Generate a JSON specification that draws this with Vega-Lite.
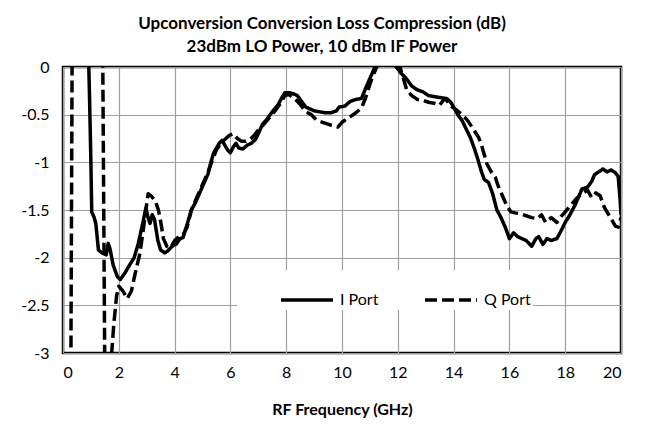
{
  "$schema": "https://vega.github.io/schema/vega-lite/v6.json",
  "autosize": "none",
  "padding": {"left": 63, "top": 67, "right": 25, "bottom": 77},
  "width": 558,
  "height": 286,
  "background": "white",
  "title": {
    "text": ["Upconversion Conversion Loss Compression (dB)", "23dBm LO Power, 10 dBm IF Power"],
    "font": "Lato",
    "fontSize": 17,
    "fontWeight": "bold",
    "color": "black",
    "anchor": "middle",
    "dx": -20,
    "offset": 3,
    "lineHeight": 23
  },
  "config": {
    "view": {"stroke": "black", "strokeWidth": 2.5},
    "axis": {"labelFont": "Lato", "titleFont": "Lato", "labelColor": "black", "titleColor": "black", "gridColor": "#a0a0a0", "gridWidth": 1.2, "gridOpacity": 1, "ticks": false, "domain": false}
  },
  "data": {
    "values": [
      {"f": 0.90, "db": 0.3, "port": "I Port"},
      {"f": 0.95, "db": -0.3, "port": "I Port"},
      {"f": 1.0, "db": -1.0, "port": "I Port"},
      {"f": 1.03, "db": -1.52, "port": "I Port"},
      {"f": 1.12, "db": -1.58, "port": "I Port"},
      {"f": 1.18, "db": -1.65, "port": "I Port"},
      {"f": 1.27, "db": -1.92, "port": "I Port"},
      {"f": 1.4, "db": -1.95, "port": "I Port"},
      {"f": 1.55, "db": -1.97, "port": "I Port"},
      {"f": 1.62, "db": -1.85, "port": "I Port"},
      {"f": 1.68, "db": -1.9, "port": "I Port"},
      {"f": 1.8, "db": -2.08, "port": "I Port"},
      {"f": 1.95, "db": -2.2, "port": "I Port"},
      {"f": 2.05, "db": -2.23, "port": "I Port"},
      {"f": 2.2, "db": -2.17, "port": "I Port"},
      {"f": 2.4, "db": -2.07, "port": "I Port"},
      {"f": 2.55, "db": -2.0, "port": "I Port"},
      {"f": 2.7, "db": -1.85, "port": "I Port"},
      {"f": 2.85, "db": -1.65, "port": "I Port"},
      {"f": 2.97, "db": -1.48, "port": "I Port"},
      {"f": 3.05, "db": -1.58, "port": "I Port"},
      {"f": 3.12, "db": -1.64, "port": "I Port"},
      {"f": 3.2, "db": -1.55, "port": "I Port"},
      {"f": 3.28, "db": -1.6, "port": "I Port"},
      {"f": 3.4, "db": -1.82, "port": "I Port"},
      {"f": 3.5, "db": -1.92, "port": "I Port"},
      {"f": 3.65, "db": -1.95, "port": "I Port"},
      {"f": 3.75, "db": -1.93, "port": "I Port"},
      {"f": 3.85, "db": -1.9, "port": "I Port"},
      {"f": 3.95, "db": -1.87, "port": "I Port"},
      {"f": 4.05, "db": -1.86, "port": "I Port"},
      {"f": 4.2, "db": -1.8, "port": "I Port"},
      {"f": 4.3, "db": -1.79, "port": "I Port"},
      {"f": 4.45, "db": -1.65, "port": "I Port"},
      {"f": 4.6, "db": -1.5, "port": "I Port"},
      {"f": 4.75, "db": -1.42, "port": "I Port"},
      {"f": 4.9, "db": -1.32, "port": "I Port"},
      {"f": 5.05, "db": -1.22, "port": "I Port"},
      {"f": 5.2, "db": -1.12, "port": "I Port"},
      {"f": 5.3, "db": -1.0, "port": "I Port"},
      {"f": 5.4, "db": -0.9, "port": "I Port"},
      {"f": 5.5, "db": -0.85, "port": "I Port"},
      {"f": 5.6, "db": -0.8, "port": "I Port"},
      {"f": 5.7, "db": -0.77, "port": "I Port"},
      {"f": 5.8, "db": -0.82, "port": "I Port"},
      {"f": 5.9, "db": -0.87, "port": "I Port"},
      {"f": 6.0, "db": -0.9, "port": "I Port"},
      {"f": 6.1, "db": -0.84, "port": "I Port"},
      {"f": 6.2, "db": -0.8, "port": "I Port"},
      {"f": 6.3, "db": -0.85, "port": "I Port"},
      {"f": 6.45, "db": -0.86, "port": "I Port"},
      {"f": 6.6, "db": -0.82, "port": "I Port"},
      {"f": 6.75, "db": -0.8, "port": "I Port"},
      {"f": 6.9, "db": -0.76, "port": "I Port"},
      {"f": 7.0, "db": -0.7, "port": "I Port"},
      {"f": 7.15, "db": -0.6, "port": "I Port"},
      {"f": 7.3, "db": -0.55, "port": "I Port"},
      {"f": 7.5, "db": -0.47, "port": "I Port"},
      {"f": 7.7, "db": -0.4, "port": "I Port"},
      {"f": 7.85, "db": -0.32, "port": "I Port"},
      {"f": 7.95, "db": -0.27, "port": "I Port"},
      {"f": 8.1, "db": -0.27, "port": "I Port"},
      {"f": 8.25, "db": -0.28, "port": "I Port"},
      {"f": 8.4, "db": -0.3, "port": "I Port"},
      {"f": 8.55, "db": -0.36, "port": "I Port"},
      {"f": 8.7, "db": -0.42, "port": "I Port"},
      {"f": 8.85, "db": -0.44, "port": "I Port"},
      {"f": 9.0, "db": -0.46, "port": "I Port"},
      {"f": 9.2, "db": -0.47, "port": "I Port"},
      {"f": 9.4, "db": -0.48, "port": "I Port"},
      {"f": 9.6, "db": -0.48, "port": "I Port"},
      {"f": 9.8, "db": -0.46, "port": "I Port"},
      {"f": 9.9, "db": -0.42, "port": "I Port"},
      {"f": 10.1, "db": -0.41, "port": "I Port"},
      {"f": 10.3, "db": -0.36, "port": "I Port"},
      {"f": 10.5, "db": -0.34, "port": "I Port"},
      {"f": 10.7, "db": -0.33, "port": "I Port"},
      {"f": 10.85, "db": -0.22, "port": "I Port"},
      {"f": 11.0, "db": -0.12, "port": "I Port"},
      {"f": 11.18, "db": 0.0, "port": "I Port"},
      {"f": 11.3, "db": 0.08, "port": "I Port"},
      {"f": 11.5, "db": 0.1, "port": "I Port"},
      {"f": 11.75, "db": 0.05, "port": "I Port"},
      {"f": 11.95, "db": 0.0, "port": "I Port"},
      {"f": 12.1, "db": -0.06, "port": "I Port"},
      {"f": 12.3, "db": -0.12, "port": "I Port"},
      {"f": 12.5, "db": -0.2, "port": "I Port"},
      {"f": 12.7, "db": -0.24, "port": "I Port"},
      {"f": 12.9, "db": -0.26, "port": "I Port"},
      {"f": 13.1, "db": -0.3, "port": "I Port"},
      {"f": 13.3, "db": -0.31, "port": "I Port"},
      {"f": 13.5, "db": -0.32, "port": "I Port"},
      {"f": 13.75, "db": -0.33, "port": "I Port"},
      {"f": 13.9, "db": -0.37, "port": "I Port"},
      {"f": 14.0, "db": -0.42, "port": "I Port"},
      {"f": 14.15, "db": -0.5, "port": "I Port"},
      {"f": 14.3, "db": -0.56, "port": "I Port"},
      {"f": 14.45, "db": -0.65, "port": "I Port"},
      {"f": 14.6, "db": -0.74, "port": "I Port"},
      {"f": 14.75, "db": -0.86, "port": "I Port"},
      {"f": 14.85, "db": -0.95, "port": "I Port"},
      {"f": 15.0, "db": -1.1, "port": "I Port"},
      {"f": 15.1, "db": -1.18, "port": "I Port"},
      {"f": 15.25, "db": -1.21, "port": "I Port"},
      {"f": 15.4, "db": -1.33, "port": "I Port"},
      {"f": 15.55, "db": -1.5, "port": "I Port"},
      {"f": 15.7, "db": -1.58, "port": "I Port"},
      {"f": 15.85, "db": -1.68, "port": "I Port"},
      {"f": 16.0, "db": -1.8, "port": "I Port"},
      {"f": 16.15, "db": -1.74, "port": "I Port"},
      {"f": 16.3, "db": -1.78, "port": "I Port"},
      {"f": 16.45, "db": -1.8, "port": "I Port"},
      {"f": 16.6, "db": -1.82, "port": "I Port"},
      {"f": 16.8, "db": -1.88, "port": "I Port"},
      {"f": 16.95, "db": -1.8, "port": "I Port"},
      {"f": 17.05, "db": -1.78, "port": "I Port"},
      {"f": 17.2, "db": -1.86, "port": "I Port"},
      {"f": 17.35, "db": -1.8, "port": "I Port"},
      {"f": 17.5, "db": -1.82, "port": "I Port"},
      {"f": 17.7, "db": -1.8, "port": "I Port"},
      {"f": 17.85, "db": -1.72, "port": "I Port"},
      {"f": 18.0, "db": -1.63, "port": "I Port"},
      {"f": 18.15, "db": -1.56, "port": "I Port"},
      {"f": 18.35, "db": -1.45, "port": "I Port"},
      {"f": 18.5, "db": -1.35, "port": "I Port"},
      {"f": 18.6, "db": -1.28, "port": "I Port"},
      {"f": 18.8, "db": -1.26, "port": "I Port"},
      {"f": 18.95, "db": -1.2, "port": "I Port"},
      {"f": 19.05, "db": -1.13, "port": "I Port"},
      {"f": 19.2, "db": -1.1, "port": "I Port"},
      {"f": 19.35, "db": -1.07, "port": "I Port"},
      {"f": 19.5, "db": -1.1, "port": "I Port"},
      {"f": 19.65, "db": -1.08, "port": "I Port"},
      {"f": 19.8, "db": -1.11, "port": "I Port"},
      {"f": 19.9, "db": -1.15, "port": "I Port"},
      {"f": 19.97, "db": -1.4, "port": "I Port"},
      {"f": 20.0, "db": -1.55, "port": "I Port"},
      {"f": 0.28, "db": -3.3, "port": "Q Port"},
      {"f": 0.33, "db": 0.3, "port": "Q Port"},
      {"f": 1.42, "db": 0.3, "port": "Q Port"},
      {"f": 1.5, "db": -3.3, "port": "Q Port"},
      {"f": 1.65, "db": -3.3, "port": "Q Port"},
      {"f": 1.72, "db": -3.1, "port": "Q Port"},
      {"f": 1.82, "db": -2.7, "port": "Q Port"},
      {"f": 1.92, "db": -2.4, "port": "Q Port"},
      {"f": 2.0, "db": -2.3, "port": "Q Port"},
      {"f": 2.15, "db": -2.35, "port": "Q Port"},
      {"f": 2.3, "db": -2.43, "port": "Q Port"},
      {"f": 2.45, "db": -2.35, "port": "Q Port"},
      {"f": 2.6, "db": -2.15, "port": "Q Port"},
      {"f": 2.76, "db": -1.95, "port": "Q Port"},
      {"f": 2.88, "db": -1.7, "port": "Q Port"},
      {"f": 2.97, "db": -1.5, "port": "Q Port"},
      {"f": 3.05, "db": -1.33, "port": "Q Port"},
      {"f": 3.15, "db": -1.35, "port": "Q Port"},
      {"f": 3.3, "db": -1.4, "port": "Q Port"},
      {"f": 3.42, "db": -1.5, "port": "Q Port"},
      {"f": 3.5, "db": -1.62, "port": "Q Port"},
      {"f": 3.6, "db": -1.8, "port": "Q Port"},
      {"f": 3.72, "db": -1.88, "port": "Q Port"},
      {"f": 3.85, "db": -1.9, "port": "Q Port"},
      {"f": 4.0, "db": -1.82, "port": "Q Port"},
      {"f": 4.15, "db": -1.78, "port": "Q Port"},
      {"f": 4.3, "db": -1.76, "port": "Q Port"},
      {"f": 4.45, "db": -1.68, "port": "Q Port"},
      {"f": 4.6, "db": -1.5, "port": "Q Port"},
      {"f": 4.75, "db": -1.4, "port": "Q Port"},
      {"f": 4.9, "db": -1.3, "port": "Q Port"},
      {"f": 5.05, "db": -1.2, "port": "Q Port"},
      {"f": 5.2, "db": -1.1, "port": "Q Port"},
      {"f": 5.35, "db": -0.98, "port": "Q Port"},
      {"f": 5.5, "db": -0.87, "port": "Q Port"},
      {"f": 5.65, "db": -0.8, "port": "Q Port"},
      {"f": 5.8, "db": -0.76, "port": "Q Port"},
      {"f": 5.95, "db": -0.72, "port": "Q Port"},
      {"f": 6.1, "db": -0.7, "port": "Q Port"},
      {"f": 6.25, "db": -0.75, "port": "Q Port"},
      {"f": 6.4, "db": -0.78, "port": "Q Port"},
      {"f": 6.55, "db": -0.78, "port": "Q Port"},
      {"f": 6.7, "db": -0.76, "port": "Q Port"},
      {"f": 6.85, "db": -0.72, "port": "Q Port"},
      {"f": 7.0, "db": -0.66, "port": "Q Port"},
      {"f": 7.2, "db": -0.6, "port": "Q Port"},
      {"f": 7.4, "db": -0.53, "port": "Q Port"},
      {"f": 7.6, "db": -0.46, "port": "Q Port"},
      {"f": 7.8, "db": -0.38, "port": "Q Port"},
      {"f": 7.95, "db": -0.3, "port": "Q Port"},
      {"f": 8.1, "db": -0.29, "port": "Q Port"},
      {"f": 8.3, "db": -0.33, "port": "Q Port"},
      {"f": 8.5, "db": -0.39, "port": "Q Port"},
      {"f": 8.7, "db": -0.47, "port": "Q Port"},
      {"f": 8.9, "db": -0.5, "port": "Q Port"},
      {"f": 9.1, "db": -0.56, "port": "Q Port"},
      {"f": 9.3, "db": -0.58, "port": "Q Port"},
      {"f": 9.5, "db": -0.6, "port": "Q Port"},
      {"f": 9.7, "db": -0.62, "port": "Q Port"},
      {"f": 9.85, "db": -0.63, "port": "Q Port"},
      {"f": 10.0, "db": -0.58, "port": "Q Port"},
      {"f": 10.15, "db": -0.55, "port": "Q Port"},
      {"f": 10.3, "db": -0.52, "port": "Q Port"},
      {"f": 10.5, "db": -0.48, "port": "Q Port"},
      {"f": 10.7, "db": -0.43, "port": "Q Port"},
      {"f": 10.85, "db": -0.32, "port": "Q Port"},
      {"f": 11.0, "db": -0.18, "port": "Q Port"},
      {"f": 11.1, "db": -0.1, "port": "Q Port"},
      {"f": 11.24, "db": 0.0, "port": "Q Port"},
      {"f": 11.5, "db": 0.1, "port": "Q Port"},
      {"f": 11.8, "db": 0.1, "port": "Q Port"},
      {"f": 12.08, "db": 0.0, "port": "Q Port"},
      {"f": 12.2, "db": -0.12, "port": "Q Port"},
      {"f": 12.32, "db": -0.24, "port": "Q Port"},
      {"f": 12.5, "db": -0.3, "port": "Q Port"},
      {"f": 12.7, "db": -0.34, "port": "Q Port"},
      {"f": 12.9, "db": -0.35, "port": "Q Port"},
      {"f": 13.1, "db": -0.37, "port": "Q Port"},
      {"f": 13.3, "db": -0.38, "port": "Q Port"},
      {"f": 13.5, "db": -0.4, "port": "Q Port"},
      {"f": 13.65, "db": -0.34, "port": "Q Port"},
      {"f": 13.75, "db": -0.35, "port": "Q Port"},
      {"f": 13.95, "db": -0.42, "port": "Q Port"},
      {"f": 14.1, "db": -0.45, "port": "Q Port"},
      {"f": 14.3, "db": -0.5, "port": "Q Port"},
      {"f": 14.5, "db": -0.56, "port": "Q Port"},
      {"f": 14.7, "db": -0.65, "port": "Q Port"},
      {"f": 14.9, "db": -0.74, "port": "Q Port"},
      {"f": 15.0, "db": -0.82, "port": "Q Port"},
      {"f": 15.1, "db": -0.92, "port": "Q Port"},
      {"f": 15.2, "db": -1.02, "port": "Q Port"},
      {"f": 15.35, "db": -1.1, "port": "Q Port"},
      {"f": 15.5, "db": -1.16, "port": "Q Port"},
      {"f": 15.6, "db": -1.25, "port": "Q Port"},
      {"f": 15.75, "db": -1.35, "port": "Q Port"},
      {"f": 15.9, "db": -1.45, "port": "Q Port"},
      {"f": 16.05, "db": -1.52, "port": "Q Port"},
      {"f": 16.2, "db": -1.53, "port": "Q Port"},
      {"f": 16.4, "db": -1.54, "port": "Q Port"},
      {"f": 16.6, "db": -1.56, "port": "Q Port"},
      {"f": 16.8, "db": -1.58, "port": "Q Port"},
      {"f": 17.0, "db": -1.59, "port": "Q Port"},
      {"f": 17.15, "db": -1.55, "port": "Q Port"},
      {"f": 17.3, "db": -1.63, "port": "Q Port"},
      {"f": 17.5, "db": -1.58, "port": "Q Port"},
      {"f": 17.7, "db": -1.63, "port": "Q Port"},
      {"f": 17.85, "db": -1.57, "port": "Q Port"},
      {"f": 18.0, "db": -1.52, "port": "Q Port"},
      {"f": 18.2, "db": -1.45, "port": "Q Port"},
      {"f": 18.4, "db": -1.38, "port": "Q Port"},
      {"f": 18.6, "db": -1.33, "port": "Q Port"},
      {"f": 18.8, "db": -1.29, "port": "Q Port"},
      {"f": 18.95, "db": -1.37, "port": "Q Port"},
      {"f": 19.1, "db": -1.32, "port": "Q Port"},
      {"f": 19.25, "db": -1.35, "port": "Q Port"},
      {"f": 19.4, "db": -1.47, "port": "Q Port"},
      {"f": 19.6, "db": -1.57, "port": "Q Port"},
      {"f": 19.8, "db": -1.67, "port": "Q Port"},
      {"f": 19.9, "db": -1.68, "port": "Q Port"},
      {"f": 20.0, "db": -1.58, "port": "Q Port"}
    ]
  },
  "mark": {"type": "line", "clip": true, "strokeWidth": 3.5, "color": "black", "strokeJoin": "round"},
  "encoding": {
    "x": {
      "field": "f", "type": "quantitative",
      "scale": {"domain": [0, 20], "nice": false},
      "axis": {"values": [0, 2, 4, 6, 8, 10, 12, 14, 16, 18, 20], "title": "RF Frequency (GHz)", "labelFontSize": 16, "labelPadding": 11, "titleFontSize": 16, "titleFontWeight": "bold", "titlePadding": 21}
    },
    "y": {
      "field": "db", "type": "quantitative",
      "scale": {"domain": [-3, 0], "nice": false},
      "axis": {"values": [0, -0.5, -1, -1.5, -2, -2.5, -3], "title": null, "labelFontSize": 16, "labelPadding": 14, "labelExpr": "datum.value + ''"}
    },
    "strokeDash": {
      "field": "port", "type": "nominal",
      "scale": {"domain": ["I Port", "Q Port"], "range": [[1, 0], [12, 5]]},
      "legend": {
        "orient": "none", "legendX": 174, "legendY": 203, "direction": "horizontal",
        "title": null, "fillColor": "white", "padding": 2,
        "symbolType": "stroke", "symbolSize": 2700, "symbolStrokeWidth": 3.5, "symbolStrokeColor": "black", "symbolOffset": 40,
        "labelFont": "Lato", "labelFontSize": 16, "labelColor": "black", "labelOffset": 5, "columnPadding": 4
      }
    },
    "order": {"field": "f", "type": "quantitative"}
  }
}
